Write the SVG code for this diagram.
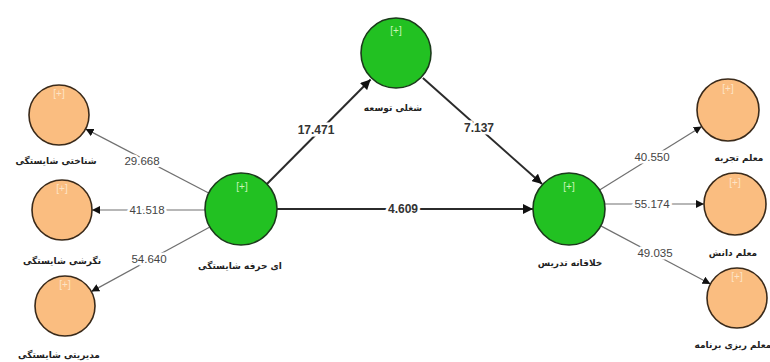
<svg xmlns="http://www.w3.org/2000/svg" width="770" height="362" viewBox="0 0 770 362">
<style>
.lv{fill:#22c122;stroke:#1b3a1b;stroke-width:1.6}
.mv{fill:#fabd80;stroke:#3a2a1a;stroke-width:1.6}
.plus{font-family:"Liberation Sans",Arial,sans-serif;font-size:10px;text-anchor:middle}
.pg{fill:#c9f5b8}
.po{fill:#fde4c6}
.name{font-family:"DejaVu Sans","Noto Sans",sans-serif;font-size:9px;font-weight:bold;fill:#222;text-anchor:middle;direction:ltr;unicode-bidi:embed}
.inner{stroke:#2b2b2b;stroke-width:2;fill:none}
.outer{stroke:#707070;stroke-width:1.2;fill:none}
.coef{font-family:"Liberation Sans",Arial,sans-serif;font-size:12px;font-weight:bold;fill:#333;text-anchor:middle;stroke:#fff;stroke-width:5;paint-order:stroke}
.load{font-family:"Liberation Sans",Arial,sans-serif;font-size:11.5px;fill:#444;text-anchor:middle;stroke:#fff;stroke-width:5;paint-order:stroke}
</style>
<defs>
<marker id="ah" viewBox="0 0 10 10" refX="10" refY="5" markerWidth="8" markerHeight="8" markerUnits="userSpaceOnUse" orient="auto">
<path d="M0,0 L10,5 L0,10 z" fill="#111"/>
</marker>
<marker id="ahb" viewBox="0 0 10 10" refX="10" refY="5" markerWidth="10" markerHeight="10" markerUnits="userSpaceOnUse" orient="auto">
<path d="M0,0 L10,5 L0,10 z" fill="#111"/>
</marker>
</defs>
<g id="connectors">
<line class="outer" x1="209.1" y1="193.3" x2="85.6" y2="128.9" marker-end="url(#ah)"/>
<line class="outer" x1="205" y1="210" x2="92" y2="210" marker-end="url(#ah)"/>
<line class="outer" x1="209.4" y1="227.2" x2="91.3" y2="291.6" marker-end="url(#ah)"/>
<line class="inner" x1="266.4" y1="184.5" x2="370.6" y2="79.5" marker-end="url(#ahb)"/>
<line class="inner" x1="422.9" y1="77.9" x2="542.1" y2="184.1" marker-end="url(#ahb)"/>
<line class="inner" x1="277" y1="209" x2="533" y2="209" marker-end="url(#ahb)"/>
<line class="outer" x1="599.6" y1="190" x2="701.7" y2="126.4" marker-end="url(#ah)"/>
<line class="outer" x1="604.6" y1="204" x2="704" y2="204" marker-end="url(#ah)"/>
<line class="outer" x1="600.8" y1="225.9" x2="710.5" y2="284" marker-end="url(#ah)"/>
<text class="load" x="142" y="165">29.668</text>
<text class="load" x="147" y="214">41.518</text>
<text class="load" x="149" y="263">54.640</text>
<text class="coef" x="316" y="134">17.471</text>
<text class="coef" x="479" y="132">7.137</text>
<text class="coef" x="403" y="213">4.609</text>
<text class="load" x="652" y="161">40.550</text>
<text class="load" x="652" y="208">55.174</text>
<text class="load" x="655" y="257">49.035</text>
</g>
<g id="n_shenakhti">
<circle class="mv" cx="59" cy="115" r="30"/>
<text class="plus po" x="59" y="97">[+]</text>
<text class="name" x="56" y="164">&#x200E;شایستگی&#x200E; شناختی</text>
</g>
<g id="n_negareshi">
<circle class="mv" cx="62" cy="210" r="30"/>
<text class="plus po" x="62" y="192">[+]</text>
<text class="name" x="62" y="264">&#x200E;شایستگی&#x200E; نگرشی</text>
</g>
<g id="n_modiriati">
<circle class="mv" cx="65" cy="306" r="30"/>
<text class="plus po" x="65" y="288">[+]</text>
<text class="name" x="59" y="358">&#x200E;شایستگی&#x200E; مدیریتی</text>
</g>
<g id="n_herfei">
<circle class="lv" cx="241" cy="209" r="36"/>
<text class="plus pg" x="242" y="190">[+]</text>
<text class="name" x="240" y="269">&#x200E;شایستگی&#x200E; حرفه&#x200E; ای</text>
</g>
<g id="n_toseeh">
<circle class="lv" cx="396" cy="53" r="35"/>
<text class="plus pg" x="396" y="34">[+]</text>
<text class="name" x="393" y="111">&#x200E;توسعه&#x200E; شغلی</text>
</g>
<g id="n_tadris">
<circle class="lv" cx="569" cy="209" r="36"/>
<text class="plus pg" x="569" y="190">[+]</text>
<text class="name" x="570" y="266">&#x200E;تدریس&#x200E; خلاقانه</text>
</g>
<g id="n_tajrobe">
<circle class="mv" cx="728" cy="110" r="31"/>
<text class="plus po" x="728" y="92">[+]</text>
<text class="name" x="739" y="161">&#x200E;تجربه&#x200E; معلم</text>
</g>
<g id="n_danesh">
<circle class="mv" cx="735" cy="204" r="31"/>
<text class="plus po" x="735" y="186">[+]</text>
<text class="name" x="733" y="256">&#x200E;دانش&#x200E; معلم</text>
</g>
<g id="n_barname">
<circle class="mv" cx="737" cy="298" r="30"/>
<text class="plus po" x="737" y="280">[+]</text>
<text class="name" x="733" y="348">&#x200E;برنامه&#x200E; ریزی&#x200E; معلم</text>
</g>
</svg>
